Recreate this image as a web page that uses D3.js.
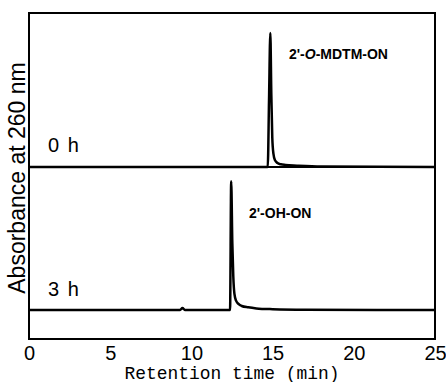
<!DOCTYPE html>
<html>
<head>
<meta charset="utf-8">
<script src="https://cdn.jsdelivr.net/npm/d3@7"></script>
<style>
  body { margin: 0; background: #fff; }
</style>
</head>
<body>
<div id="chart"></div>
<script>
var width = 446, height = 382;

// retention time (min) / absorbance (a.u.)
var time0h = [0, 14.70, 14.78, 14.86, 14.92, 14.98, 15.05, 15.15, 15.3, 15.5, 15.8, 16.5, 18, 25];
var abs0h  = [0, 0, 0.5, 1.0, 0.55, 0.22, 0.10, 0.05, 0.03, 0.02, 0.015, 0.01, 0.003, 0];

var time3h = [0, 3, 9.3, 9.45, 9.6, 12.38, 12.45, 12.52, 12.58, 12.65, 12.75, 12.9, 13.1, 13.5, 14, 15, 17, 25];
var abs3h  = [0, 0, 0, 0.015, 0, 0, 0.96, 0.5, 0.25, 0.12, 0.07, 0.045, 0.03, 0.02, 0.012, 0.006, 0.002, 0];

var xTicks = [0, 5, 10, 15, 20, 25];
var panelLabels = ["0 h", "3 h"];

var plotLeft = 29, plotRight = 435, plotTop = 13, plotMid = 167, plotBottom = 339;

var svg = d3.select("#chart").append("svg")
    .attr("width", width)
    .attr("height", height);

var x = d3.scaleLinear().domain([0, 25]).range([plotLeft, plotRight]);
// top panel: baseline sits on the divider
var yTop = d3.scaleLinear().domain([0, 1]).range([plotMid, 33]);
// bottom panel
var yBot = d3.scaleLinear().domain([0, 1]).range([310, 176]);

function pts(t, v) {
    return t.map(function(d, i) { return [d, v[i]]; });
}

//Frame
svg.append("rect")
    .attr("x", plotLeft).attr("y", plotTop)
    .attr("width", plotRight - plotLeft).attr("height", plotBottom - plotTop)
    .attr("fill", "none").attr("stroke", "#000").attr("stroke-width", 2);

svg.append("line")
    .attr("x1", plotLeft).attr("x2", plotRight)
    .attr("y1", plotMid).attr("y2", plotMid)
    .attr("stroke", "#000").attr("stroke-width", 2);

// Traces
var lineTop = d3.line()
    .x(function(d) { return x(d[0]); })
    .y(function(d) { return yTop(d[1]); })
    .curve(d3.curveMonotoneX);

var lineBot = d3.line()
    .x(function(d) { return x(d[0]); })
    .y(function(d) { return yBot(d[1]); })
    .curve(d3.curveMonotoneX);

svg.append("path")
    .attr("d", lineTop(pts(time0h, abs0h)))
    .attr("fill", "none").attr("stroke", "#000")
    .attr("stroke-width", 2.5).attr("stroke-linejoin", "round");

svg.append("path")
    .attr("d", lineBot(pts(time3h, abs3h)))
    .attr("fill", "none").attr("stroke", "#000")
    .attr("stroke-width", 2.5).attr("stroke-linejoin", "round");

// X axis
var xAxis = d3.axisBottom(x).tickValues(xTicks).tickSize(0).tickPadding(7);
var gx = svg.append("g")
    .attr("transform", "translate(0," + plotBottom + ")")
    .call(xAxis);
gx.select(".domain").remove();
gx.selectAll("text")
    .attr("font-family", "Liberation Sans Narrow, Arial Narrow, sans-serif")
    .attr("font-size", "20px")
    .attr("fill", "#000");

svg.append("text")
    .attr("x", (plotLeft + plotRight) / 2)
    .attr("y", 379)
    .attr("text-anchor", "middle")
    .attr("font-family", "Liberation Mono, DejaVu Sans Mono, monospace")
    .attr("font-size", "19px")
    .attr("textLength", 215)
    .attr("lengthAdjust", "spacingAndGlyphs")
    .text("Retention time (min)");

svg.append("text")
    .attr("transform", "translate(25,178) rotate(-90)")
    .attr("text-anchor", "middle")
    .attr("font-family", "Liberation Sans, Arial, sans-serif")
    .attr("font-size", "23px")
    .text("Absorbance at 260 nm");

// Panel labels
svg.selectAll(".plab")
    .data(panelLabels)
    .enter()
    .append("text")
    .attr("class", "plab")
    .attr("x", 48)
    .attr("y", function(d, i) { return i === 0 ? 152 : 296; })
    .attr("font-family", "Liberation Sans, Arial, sans-serif")
    .attr("font-size", "20px")
    .attr("word-spacing", "3px")
    .text(function(d) { return d; });

// Peak labels
var lab1 = svg.append("text")
    .attr("x", 289).attr("y", 59)
    .attr("font-family", "Liberation Sans, Arial, sans-serif")
    .attr("font-size", "14px")
    .attr("font-weight", "bold");
lab1.append("tspan").text("2'-");
lab1.append("tspan").attr("font-style", "italic").text("O");
lab1.append("tspan").text("-MDTM-ON");

svg.append("text")
    .attr("x", 249).attr("y", 218)
    .attr("font-family", "Liberation Sans, Arial, sans-serif")
    .attr("font-size", "14px")
    .attr("font-weight", "bold")
    .text("2'-OH-ON");
</script>
</body>
</html>
